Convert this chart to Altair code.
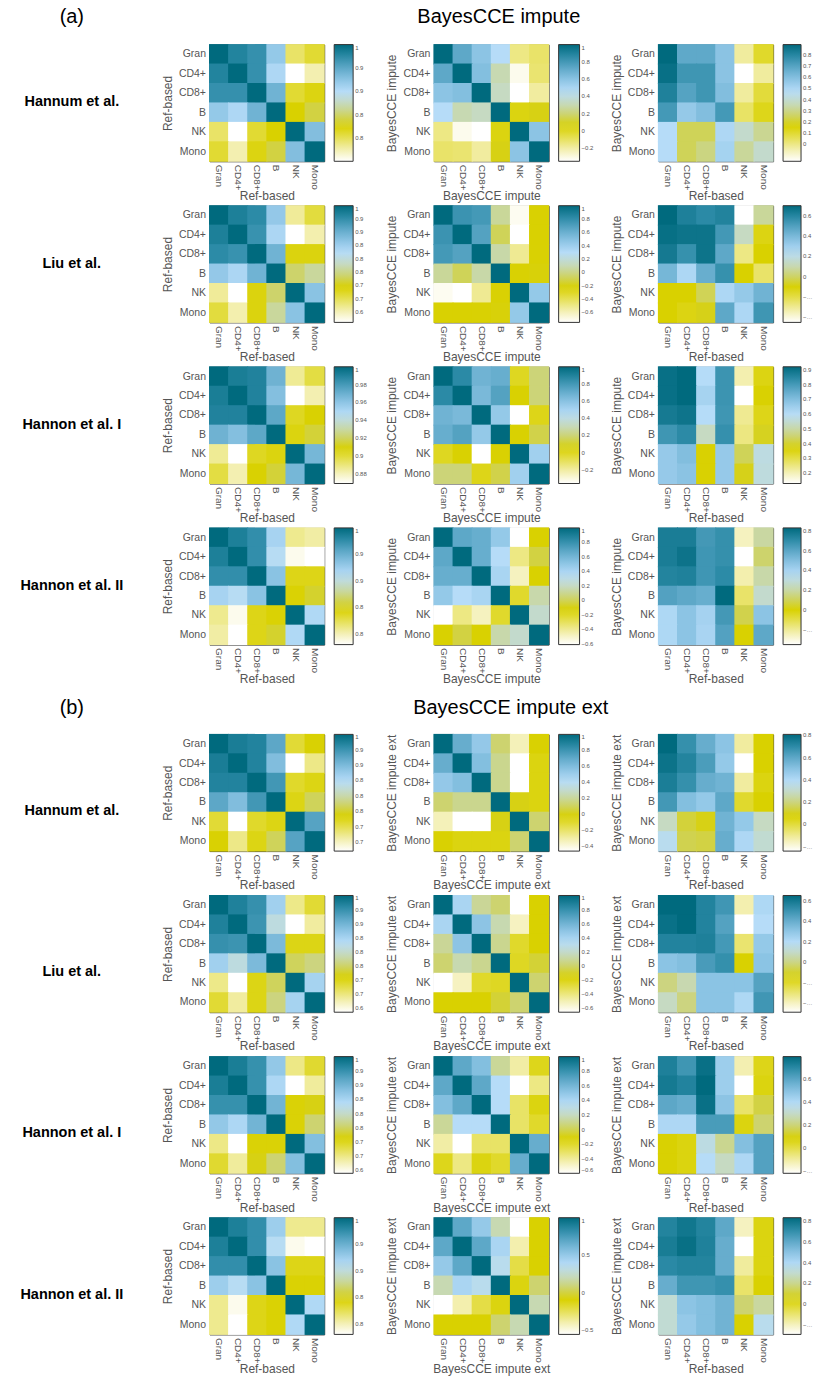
import altair as alt
import pandas as pd

FONT = "Liberation Sans"

cell_types = ["Gran", "CD4+", "CD8+", "B", "NK", "Mono"]
cohorts = ["Hannum et al.", "Liu et al.", "Hannon et al. I", "Hannon et al. II"]

# ---------------- (a) BayesCCE impute ----------------
a_hannum_ref = [
    [1.00, 0.98, 0.97, 0.92, 0.795, 0.81],
    [0.98, 1.00, 0.97, 0.905, 0.75, 0.775],
    [0.97, 0.97, 1.00, 0.94, 0.81, 0.82],
    [0.92, 0.905, 0.94, 1.00, 0.825, 0.84],
    [0.795, 0.75, 0.81, 0.825, 1.00, 0.93],
    [0.81, 0.775, 0.82, 0.84, 0.93, 1.00]]
a_hannum_imp = [
    [1.00, 0.73, 0.595, 0.46, -0.15, -0.11],
    [0.73, 1.00, 0.62, 0.30, -0.32, -0.12],
    [0.595, 0.62, 1.00, 0.325, -0.35, -0.19],
    [0.46, 0.30, 0.325, 1.00, 0.03, 0.08],
    [-0.15, -0.32, -0.35, 0.03, 1.00, 0.595],
    [-0.11, -0.12, -0.19, 0.08, 0.595, 1.00]]
a_hannum_cross = [
    [0.89, 0.68, 0.68, 0.58, -0.025, 0.11],
    [0.87, 0.745, 0.745, 0.58, -0.15, -0.025],
    [0.815, 0.70, 0.745, 0.60, -0.025, 0.09],
    [0.735, 0.555, 0.60, 0.735, 0.04, 0.13],
    [0.475, 0.245, 0.245, 0.495, 0.39, 0.31],
    [0.475, 0.245, 0.29, 0.515, 0.32, 0.39]]

a_liu_ref = [
    [1.00, 0.97, 0.955, 0.86, 0.615, 0.66],
    [0.97, 1.00, 0.945, 0.835, 0.56, 0.605],
    [0.955, 0.945, 1.00, 0.895, 0.685, 0.685],
    [0.86, 0.835, 0.895, 1.00, 0.735, 0.76],
    [0.615, 0.56, 0.685, 0.735, 1.00, 0.87],
    [0.66, 0.605, 0.685, 0.76, 0.87, 1.00]]
a_liu_imp = [
    [1.00, 0.77, 0.74, 0.04, -0.72, -0.23],
    [0.77, 1.00, 0.685, -0.085, -0.75, -0.23],
    [0.74, 0.685, 1.00, 0.07, -0.52, -0.22],
    [0.04, -0.085, 0.07, 1.00, -0.22, -0.21],
    [-0.72, -0.75, -0.52, -0.22, 1.00, 0.44],
    [-0.23, -0.23, -0.22, -0.21, 0.44, 1.00]]
a_liu_cross = [
    [0.70, 0.62, 0.585, 0.61, -0.45, 0.07],
    [0.68, 0.665, 0.665, 0.53, 0.125, -0.13],
    [0.645, 0.56, 0.665, 0.47, -0.28, -0.105],
    [0.41, 0.265, 0.445, 0.56, -0.105, -0.245],
    [-0.105, -0.105, -0.015, 0.265, 0.33, 0.425],
    [-0.105, -0.13, -0.08, 0.47, 0.265, 0.54]]

a_hannon1_ref = [
    [1.00, 0.992, 0.99, 0.969, 0.886, 0.898],
    [0.992, 1.00, 0.99, 0.963, 0.869, 0.882],
    [0.99, 0.99, 1.00, 0.974, 0.903, 0.908],
    [0.969, 0.963, 0.974, 1.00, 0.906, 0.915],
    [0.886, 0.869, 0.903, 0.906, 1.00, 0.967],
    [0.898, 0.882, 0.908, 0.915, 0.967, 1.00]]
a_hannon1_imp = [
    [1.00, 0.865, 0.675, 0.70, -0.005, 0.20],
    [0.865, 1.00, 0.645, 0.755, 0.05, 0.20],
    [0.675, 0.645, 1.00, 0.565, -0.36, 0.01],
    [0.70, 0.755, 0.565, 1.00, 0.05, 0.14],
    [-0.005, 0.05, -0.36, 0.05, 1.00, 0.525],
    [0.20, 0.20, 0.01, 0.14, 0.525, 1.00]]
a_hannon1_cross = [
    [0.905, 0.92, 0.605, 0.815, 0.21, 0.35],
    [0.905, 0.92, 0.635, 0.815, 0.13, 0.365],
    [0.88, 0.895, 0.605, 0.81, 0.235, 0.345],
    [0.81, 0.84, 0.525, 0.825, 0.25, 0.39],
    [0.665, 0.70, 0.365, 0.665, 0.43, 0.57],
    [0.665, 0.685, 0.365, 0.665, 0.385, 0.565]]

a_hannon2_ref = [
    [1.00, 0.985, 0.975, 0.92, 0.81, 0.805],
    [0.985, 1.00, 0.975, 0.91, 0.785, 0.78],
    [0.975, 0.975, 1.00, 0.935, 0.84, 0.84],
    [0.92, 0.91, 0.935, 1.00, 0.845, 0.855],
    [0.81, 0.785, 0.84, 0.845, 1.00, 0.915],
    [0.805, 0.78, 0.84, 0.855, 0.915, 1.00]]
a_hannon2_imp = [
    [1.00, 0.68, 0.645, 0.485, -0.61, -0.125],
    [0.68, 1.00, 0.645, 0.355, -0.37, -0.03],
    [0.645, 0.645, 1.00, 0.405, -0.48, -0.125],
    [0.485, 0.355, 0.405, 1.00, -0.21, 0.15],
    [-0.61, -0.37, -0.48, -0.21, 1.00, 0.225],
    [-0.125, -0.03, -0.125, 0.15, 0.225, 1.00]]
a_hannon2_cross = [
    [0.76, 0.76, 0.655, 0.69, -0.255, 0.195],
    [0.76, 0.795, 0.665, 0.69, -0.35, 0.12],
    [0.735, 0.745, 0.665, 0.71, -0.23, 0.205],
    [0.62, 0.595, 0.57, 0.83, -0.14, 0.265],
    [0.38, 0.475, 0.405, 0.655, 0.085, 0.475],
    [0.38, 0.475, 0.395, 0.62, 0.005, 0.595]]

# ---------------- (b) BayesCCE impute ext ----------------
b_hannum_ref = [
    [1.00, 0.977, 0.97, 0.925, 0.71, 0.735],
    [0.977, 1.00, 0.97, 0.895, 0.62, 0.675],
    [0.97, 0.97, 1.00, 0.945, 0.715, 0.725],
    [0.925, 0.895, 0.945, 1.00, 0.725, 0.765],
    [0.71, 0.62, 0.715, 0.725, 1.00, 0.93],
    [0.735, 0.675, 0.725, 0.765, 0.93, 1.00]]
b_hannum_imp = [
    [1.00, 0.68, 0.535, 0.125, -0.33, -0.02],
    [0.68, 1.00, 0.59, 0.18, -0.46, -0.05],
    [0.535, 0.59, 1.00, 0.18, -0.46, -0.05],
    [0.125, 0.18, 0.18, 1.00, 0.005, -0.05],
    [-0.33, -0.46, -0.46, 0.005, 1.00, 0.125],
    [-0.02, -0.05, -0.05, -0.05, 0.125, 1.00]]
b_hannum_cross = [
    [0.81, 0.685, 0.58, 0.495, -0.115, 0.075],
    [0.78, 0.725, 0.64, 0.475, -0.24, 0.075],
    [0.745, 0.685, 0.58, 0.56, -0.115, 0.055],
    [0.655, 0.515, 0.475, 0.60, 0.02, 0.075],
    [0.285, 0.13, 0.095, 0.56, 0.475, 0.285],
    [0.37, 0.15, 0.14, 0.58, 0.41, 0.315]]

b_liu_ref = [
    [1.00, 0.97, 0.95, 0.855, 0.645, 0.685],
    [0.97, 1.00, 0.945, 0.815, 0.586, 0.635],
    [0.95, 0.945, 1.00, 0.89, 0.70, 0.70],
    [0.855, 0.815, 0.89, 1.00, 0.745, 0.76],
    [0.645, 0.586, 0.70, 0.745, 1.00, 0.85],
    [0.685, 0.635, 0.70, 0.76, 0.85, 1.00]]
b_liu_imp = [
    [1.00, 0.385, 0.085, 0.005, -0.66, -0.16],
    [0.385, 1.00, 0.50, 0.135, -0.53, -0.16],
    [0.085, 0.50, 1.00, 0.07, -0.245, -0.16],
    [0.005, 0.135, 0.07, 1.00, -0.23, -0.08],
    [-0.66, -0.53, -0.245, -0.23, 1.00, 0.005],
    [-0.16, -0.16, -0.16, -0.08, 0.005, 1.00]]
b_liu_cross = [
    [0.65, 0.65, 0.56, 0.49, -0.375, 0.215],
    [0.625, 0.65, 0.56, 0.445, -0.49, 0.195],
    [0.56, 0.56, 0.57, 0.48, -0.295, 0.285],
    [0.31, 0.33, 0.47, 0.515, -0.15, 0.31],
    [-0.01, 0.055, 0.31, 0.31, 0.31, 0.445],
    [0.08, -0.01, 0.31, 0.31, 0.215, 0.49]]

b_hannon1_ref = [
    [1.00, 0.975, 0.95, 0.87, 0.65, 0.69],
    [0.975, 1.00, 0.95, 0.845, 0.59, 0.64],
    [0.95, 0.95, 1.00, 0.90, 0.71, 0.72],
    [0.87, 0.845, 0.90, 1.00, 0.71, 0.755],
    [0.65, 0.59, 0.71, 0.71, 1.00, 0.885],
    [0.69, 0.64, 0.72, 0.755, 0.885, 1.00]]
b_hannon1_imp = [
    [1.00, 0.68, 0.55, 0.12, -0.42, -0.17],
    [0.68, 1.00, 0.68, 0.36, -0.60, -0.36],
    [0.55, 0.68, 1.00, 0.36, -0.31, -0.15],
    [0.12, 0.36, 0.36, 1.00, -0.31, -0.20],
    [-0.42, -0.60, -0.31, -0.31, 1.00, 0.65],
    [-0.17, -0.36, -0.15, -0.20, 0.65, 1.00]]
b_hannon1_cross = [
    [0.72, 0.65, 0.77, 0.445, -0.12, 0.055],
    [0.74, 0.71, 0.79, 0.445, -0.22, 0.065],
    [0.59, 0.57, 0.77, 0.485, -0.04, 0.145],
    [0.405, 0.405, 0.63, 0.63, 0.065, 0.185],
    [0.085, 0.065, 0.345, 0.225, 0.505, 0.61],
    [0.085, 0.065, 0.385, 0.285, 0.405, 0.61]]

b_hannon2_ref = [
    [1.00, 0.985, 0.975, 0.925, 0.81, 0.81],
    [0.985, 1.00, 0.975, 0.91, 0.785, 0.78],
    [0.975, 0.975, 1.00, 0.935, 0.84, 0.84],
    [0.925, 0.91, 0.935, 1.00, 0.845, 0.845],
    [0.81, 0.785, 0.84, 0.845, 1.00, 0.915],
    [0.81, 0.78, 0.84, 0.845, 0.915, 1.00]]
b_hannon2_imp = [
    [1.00, 0.69, 0.50, 0.19, -0.56, -0.09],
    [0.69, 1.00, 0.69, 0.42, -0.40, -0.09],
    [0.50, 0.69, 1.00, 0.345, -0.22, -0.09],
    [0.19, 0.42, 0.345, 1.00, -0.12, 0.065],
    [-0.56, -0.40, -0.22, -0.12, 1.00, 0.19],
    [-0.09, -0.09, -0.09, 0.065, 0.19, 1.00]]
b_hannon2_cross = [
    [0.74, 0.785, 0.74, 0.605, -0.20, 0.025],
    [0.765, 0.81, 0.75, 0.585, -0.29, 0.025],
    [0.72, 0.74, 0.74, 0.585, -0.155, 0.025],
    [0.585, 0.675, 0.675, 0.695, -0.09, 0.045],
    [0.305, 0.495, 0.515, 0.56, 0.16, 0.225],
    [0.305, 0.47, 0.515, 0.56, 0.045, 0.36]]

# colour-bar limits
a_lo = [[0.75, -0.35, -0.15], [0.56, -0.75, -0.45], [0.869, -0.36, 0.13], [0.78, -0.61, -0.35]]
a_hi = [[1.0, 1.0, 0.89], [1.0, 1.0, 0.70], [1.0, 1.0, 0.92], [1.0, 1.0, 0.83]]
b_lo = [[0.62, -0.46, -0.24], [0.586, -0.66, -0.49], [0.59, -0.60, -0.22], [0.78, -0.56, -0.29]]
b_hi = [[1.0, 1.0, 0.81], [1.0, 1.0, 0.65], [1.0, 1.0, 0.79], [1.0, 1.0, 0.83]]

# colour-bar tick labels
a_ticks = [
    [[0.8, 0.85, 0.9, 0.95, 1], [-0.2, 0, 0.2, 0.4, 0.6, 0.8, 1], [0, 0.1, 0.2, 0.3, 0.4, 0.5, 0.6, 0.7, 0.8]],
    [[0.6, 0.65, 0.7, 0.75, 0.8, 0.85, 0.9, 0.95, 1], [-0.6, -0.4, -0.2, 0, 0.2, 0.4, 0.6, 0.8, 1], [-0.4, -0.2, 0, 0.2, 0.4, 0.6]],
    [[0.88, 0.9, 0.92, 0.94, 0.96, 0.98, 1], [-0.2, 0, 0.2, 0.4, 0.6, 0.8, 1], [0.2, 0.3, 0.4, 0.5, 0.6, 0.7, 0.8, 0.9]],
    [[0.8, 0.85, 0.9, 0.95, 1], [-0.6, -0.4, -0.2, 0, 0.2, 0.4, 0.6, 0.8, 1], [-0.2, 0, 0.2, 0.4, 0.6, 0.8]]]
b_ticks = [
    [[0.65, 0.7, 0.75, 0.8, 0.85, 0.9, 0.95, 1], [-0.4, -0.2, 0, 0.2, 0.4, 0.6, 0.8, 1], [-0.2, 0, 0.2, 0.4, 0.6, 0.8]],
    [[0.6, 0.65, 0.7, 0.75, 0.8, 0.85, 0.9, 0.95, 1], [-0.6, -0.4, -0.2, 0, 0.2, 0.4, 0.6, 0.8, 1], [-0.4, -0.2, 0, 0.2, 0.4, 0.6]],
    [[0.6, 0.65, 0.7, 0.75, 0.8, 0.85, 0.9, 0.95, 1], [-0.6, -0.4, -0.2, 0, 0.2, 0.4, 0.6, 0.8, 1], [-0.2, 0, 0.2, 0.4, 0.6]],
    [[0.8, 0.85, 0.9, 0.95, 1], [-0.5, 0, 0.5, 1], [-0.2, 0, 0.2, 0.4, 0.6, 0.8]]]

a_mats = [[a_hannum_ref, a_hannum_imp, a_hannum_cross],
          [a_liu_ref, a_liu_imp, a_liu_cross],
          [a_hannon1_ref, a_hannon1_imp, a_hannon1_cross],
          [a_hannon2_ref, a_hannon2_imp, a_hannon2_cross]]
b_mats = [[b_hannum_ref, b_hannum_imp, b_hannum_cross],
          [b_liu_ref, b_liu_imp, b_liu_cross],
          [b_hannon1_ref, b_hannon1_imp, b_hannon1_cross],
          [b_hannon2_ref, b_hannon2_imp, b_hannon2_cross]]

# colormap (white -> yellow -> pale -> light blue -> dark teal)
cmap_pos = [0.0, 0.1, 0.2, 0.3, 0.4, 0.5, 0.6, 0.7, 0.8, 0.9, 1.0]
cmap_col = ["#ffffff", "#f3efb0", "#e6e055", "#d9d100", "#cdd36e", "#c6dac2",
            "#b6dcf8", "#8cc4e4", "#5ea8c8", "#2b8aa6", "#006a7e"]

PW, PH = 115, 117
BAR = [19, 21, 18]
ONE = pd.DataFrame({"k": [0]})


def heatmap(mat, lo, hi, ticks, xt, yt, col):
    recs = [{"row": cell_types[i], "col": cell_types[j], "v": mat[i][j]}
            for i in range(6) for j in range(6)]
    df = pd.DataFrame(recs)
    dom = [lo + (hi - lo) * p for p in cmap_pos]
    scale = alt.Scale(domain=dom, range=cmap_col, interpolate="rgb", clamp=True)
    leg = dict(type="gradient", orient="right", direction="vertical", offset=10,
               padding=0, gradientLength=PH, gradientThickness=BAR[col],
               values=ticks, format="~g", labelFontSize=6, labelColor="#555",
               labelOffset=2, labelOverlap=False, gradientStrokeColor="#333",
               gradientStrokeWidth=1, title=None, labelFont=FONT)
    if col == 2:
        leg["labelLimit"] = 10
    return alt.Chart(df).mark_rect(width=PW / 6 + 1, height=PH / 6 + 1).encode(
        x=alt.X("col:N", sort=cell_types,
                scale=alt.Scale(paddingInner=0, paddingOuter=0),
                axis=alt.Axis(title=xt, labelAngle=90, labelFontSize=10,
                              labelColor="#555", titleFontSize=12,
                              titleColor="#555", titleFontWeight="normal",
                              ticks=False, domain=False, labelPadding=3,
                              titlePadding=0, labelFont=FONT, titleFont=FONT)),
        y=alt.Y("row:N", sort=cell_types,
                scale=alt.Scale(paddingInner=0, paddingOuter=0),
                axis=alt.Axis(title=yt, labelFontSize=10.5, labelColor="#555",
                              titleFontSize=12, titleColor="#555",
                              titleFontWeight="normal", ticks=False,
                              domain=False, labelPadding=4, titlePadding=4,
                              labelFont=FONT, titleFont=FONT)),
        color=alt.Color("v:Q", scale=scale, legend=alt.Legend(**leg)),
    ).properties(width=PW, height=PH,
                 view=alt.ViewBackground(stroke="#333", strokeWidth=1))


def text_layer(txt, x, y, size, bold=False):
    return alt.Chart(pd.DataFrame({"t": [txt]})).mark_text(
        font=FONT, fontSize=size, fontWeight="bold" if bold else "normal",
        color="black", align="center", baseline="middle"
    ).encode(x=alt.value(x), y=alt.value(y), text="t:N")


def label_chart(name, ty, extras=(), anchor=False, height=PH):
    layers = []
    if anchor:
        layers.append(alt.Chart(ONE).mark_rect(color="white").encode(
            x=alt.value(0), x2=alt.value(100), y=alt.value(-43), y2=alt.value(height)))
    if name:
        layers.append(text_layer(name, 72, ty, 14.5, bold=True))
    for (txt, x, y, size) in extras:
        layers.append(text_layer(txt, x, y, size))
    return alt.layer(*layers).properties(width=100, height=height)


def blank():
    return alt.Chart(ONE).mark_text(text="").encode(x=alt.value(0)).properties(width=1, height=0.5)


def section(mats, los, his, ticks, imp_name, label_dy, titles=None):
    out = []
    xts = ["Ref-based", imp_name, "Ref-based"]
    yts = ["Ref-based", imp_name, imp_name]
    for r in range(4):
        extras = titles if (r == 0 and titles) else ()
        out.append(label_chart(cohorts[r], label_dy, extras, anchor=(r == 0 and titles is not None)))
        for c in range(3):
            out.append(heatmap(mats[r][c], los[r][c], his[r][c], ticks[r][c], xts[c], yts[c], c))
    return out


items = []
items += section(a_mats, a_lo, a_hi, a_ticks, "BayesCCE impute", 58,
                 titles=[("(a)", 72, -28, 20), ("BayesCCE impute", 500, -28, 20)])
items.append(label_chart("", 0, [("(b)", 72, 19, 20), ("BayesCCE impute ext", 512, 19, 20)], height=0.5))
items += [blank(), blank(), blank()]
items += section(b_mats, b_lo, b_hi, b_ticks, "BayesCCE impute ext", 77)

chart = alt.ConcatChart(
    concat=items, columns=4, spacing={"row": 44.5, "column": 110},
    bounds="flush", align="each", padding=0
).resolve_scale(
    color="independent", x="independent", y="independent"
).resolve_legend(color="independent").configure(
    font=FONT, background="white"
).configure_view(stroke=None)

chart.save("out.html", embed_options={"renderer": "svg", "actions": False})
